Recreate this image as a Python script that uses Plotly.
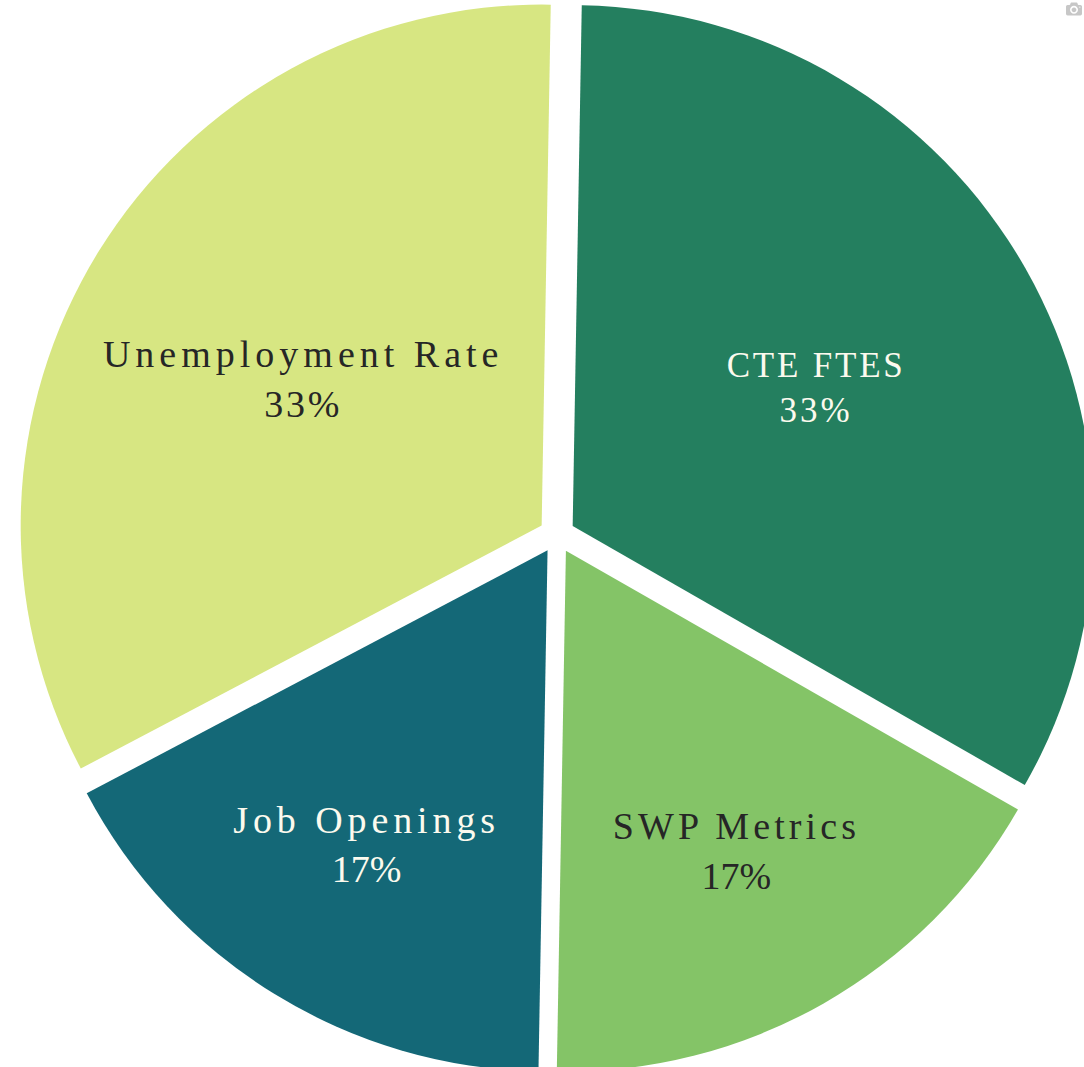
import plotly.graph_objects as go

labels = ["CTE FTES", "SWP Metrics", "Job Openings", "Unemployment Rate"]
values = [33, 17, 17, 33]
colors = ["#247f5f", "#84c467", "#146877", "#d7e682"]
text_colors = ["#fcfaee", "#262626", "#fcfaee", "#262626"]
text_sizes = [35, 38, 38, 38]

fig = go.Figure(
    go.Pie(
        labels=labels,
        values=values,
        sort=False,
        direction="clockwise",
        rotation=1,
        pull=[0.0346] * 4,
        marker=dict(colors=colors, line=dict(width=0)),
        texttemplate="%{label}<br>%{percent:.0%}",
        textposition="inside",
        insidetextorientation="horizontal",
        insidetextfont=dict(family="Liberation Serif", size=text_sizes, color=text_colors),
        hoverinfo="label+percent",
        showlegend=False,
        domain=dict(x=[0, 1114 / 1120], y=[0, 1]),
    )
)

fig.update_layout(
    width=1120,
    height=1078,
    margin=dict(l=0, r=0, t=0, b=0),
    paper_bgcolor="white",
    plot_bgcolor="white",
    showlegend=False,
)

css = (
    "g.slice:nth-of-type(1) tspan.line:nth-of-type(1){letter-spacing:2.8px}"
    "g.slice:nth-of-type(1) tspan.line:nth-of-type(2){letter-spacing:3px}"
    "g.slice:nth-of-type(2) tspan.line:nth-of-type(1){letter-spacing:4.1px}"
    "g.slice:nth-of-type(3) tspan.line:nth-of-type(1){letter-spacing:4.9px}"
    "g.slice:nth-of-type(4) tspan.line:nth-of-type(1){letter-spacing:5px}"
    "g.slice:nth-of-type(4) tspan.line:nth-of-type(2){letter-spacing:2.7px}"
)

post = (
    "document.body.style.margin='-4px 0 0 0';"
    "document.body.style.overflow='hidden';"
    "document.documentElement.style.overflow='hidden';"
    "var s=document.createElement('style');s.innerHTML='" + css + "';"
    "document.head.appendChild(s);"
    "Plotly.redraw(document.getElementById('{plot_id}'));"
)

fig.write_html("out.html", post_script=post)
